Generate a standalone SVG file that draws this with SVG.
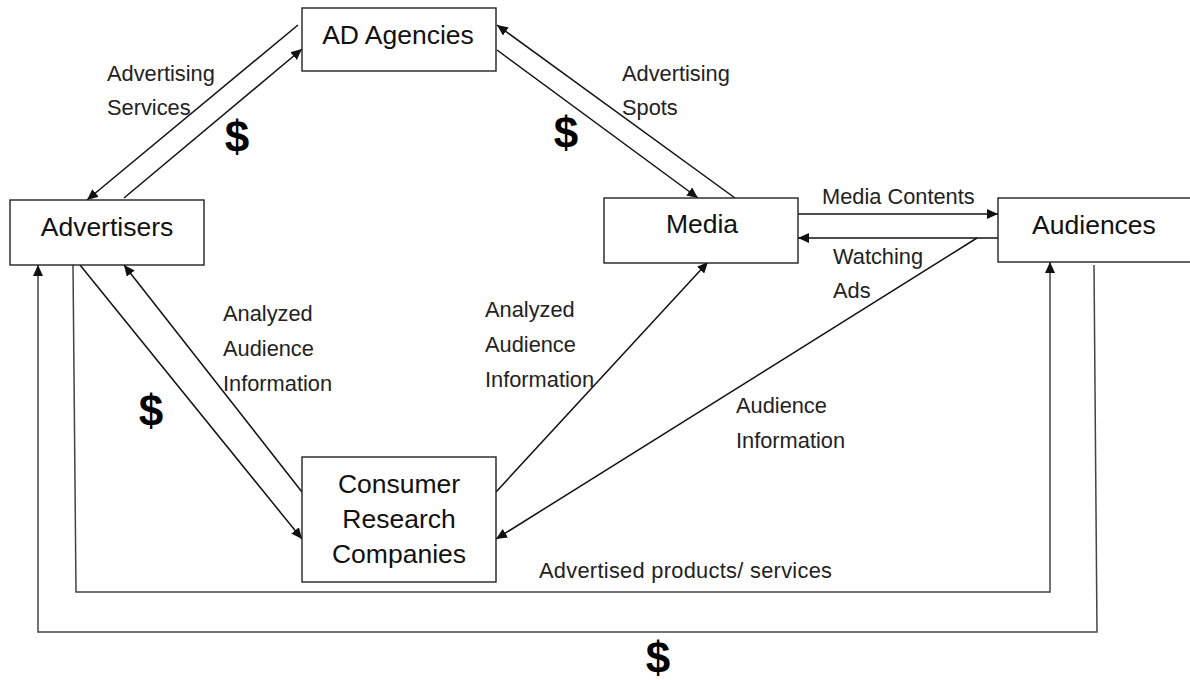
<svg xmlns="http://www.w3.org/2000/svg" width="1190" height="680" viewBox="0 0 1190 680">
  <style>
    .box { fill: #ffffff; stroke: #222222; stroke-width: 1.4; }
    .title { font-family: "Liberation Sans", Arial, sans-serif; font-size: 26.5px; fill: #111111; text-anchor: middle; }
    .label { font-family: "Liberation Sans", Arial, sans-serif; font-size: 21.8px; fill: #222222; }
    .money { font-family: "Liberation Sans", Arial, sans-serif; font-size: 44px; font-weight: bold; fill: #000000; text-anchor: middle; }
    .link { fill: none; stroke: #111111; stroke-width: 1.5; marker-end: url(#arrow); }
    .loop { fill: none; stroke: #444444; stroke-width: 1.5; marker-end: url(#arrow); }
  </style>
  <defs>
    <marker id="arrow" markerUnits="userSpaceOnUse" markerWidth="12" markerHeight="10" refX="11" refY="5" orient="auto">
      <path d="M0,0 L11,5 L0,10 z" fill="#111111"/>
    </marker>
  </defs>
  <rect width="1190" height="680" fill="#ffffff"/>

  <!-- connectors -->
  <g id="connectors">
    <path class="link" d="M298,25 L87,200"/>
    <path class="link" d="M124,198 L302,49"/>
    <path class="link" d="M497,50 L698,198"/>
    <path class="link" d="M735,198 L497,25"/>
    <path class="link" d="M798,214 L998,214"/>
    <path class="link" d="M998,238 L798,238"/>
    <path class="link" d="M977,238 L496,539"/>
    <path class="link" d="M496,492 L708,262"/>
    <path class="link" d="M302,492 L124,265"/>
    <path class="link" d="M80,265 L302,539"/>
    <path class="loop" d="M73,265 L76,592 L1050,592 L1050,262"/>
    <path class="loop" d="M1094,265 L1097,632 L38,632 L38,265"/>
  </g>

  <!-- connector labels -->
  <g id="labels">
    <text class="label" x="107" y="81">Advertising</text>
    <text class="label" x="107" y="115">Services</text>
    <text class="label" x="622" y="81">Advertising</text>
    <text class="label" x="622" y="115">Spots</text>
    <text class="label" x="822" y="204">Media Contents</text>
    <text class="label" x="833" y="264">Watching</text>
    <text class="label" x="833" y="298">Ads</text>
    <text class="label" x="223" y="321">Analyzed</text>
    <text class="label" x="223" y="356">Audience</text>
    <text class="label" x="223" y="391">Information</text>
    <text class="label" x="485" y="317">Analyzed</text>
    <text class="label" x="485" y="352">Audience</text>
    <text class="label" x="485" y="387">Information</text>
    <text class="label" x="736" y="413">Audience</text>
    <text class="label" x="736" y="448">Information</text>
    <text class="label" x="539" y="578" textLength="293" lengthAdjust="spacing">Advertised products/ services</text>
    <text class="money" x="237" y="152">$</text>
    <text class="money" x="566" y="148">$</text>
    <text class="money" x="151" y="426">$</text>
    <text class="money" x="658" y="673">$</text>
  </g>

  <!-- nodes -->
  <g id="ad-agencies">
    <rect class="box" x="302" y="8" width="194" height="63"/>
    <text class="title" x="398" y="44">AD Agencies</text>
  </g>
  <g id="advertisers">
    <rect class="box" x="10" y="200" width="194" height="65"/>
    <text class="title" x="107" y="236">Advertisers</text>
  </g>
  <g id="media">
    <rect class="box" x="604" y="198" width="194" height="65"/>
    <text class="title" x="702" y="233">Media</text>
  </g>
  <g id="audiences">
    <rect class="box" x="998" y="198" width="196" height="64"/>
    <text class="title" x="1094" y="234">Audiences</text>
  </g>
  <g id="consumer-research">
    <rect class="box" x="302" y="457" width="194" height="125"/>
    <text class="title" x="399" y="493">Consumer</text>
    <text class="title" x="399" y="528">Research</text>
    <text class="title" x="399" y="563">Companies</text>
  </g>
</svg>
